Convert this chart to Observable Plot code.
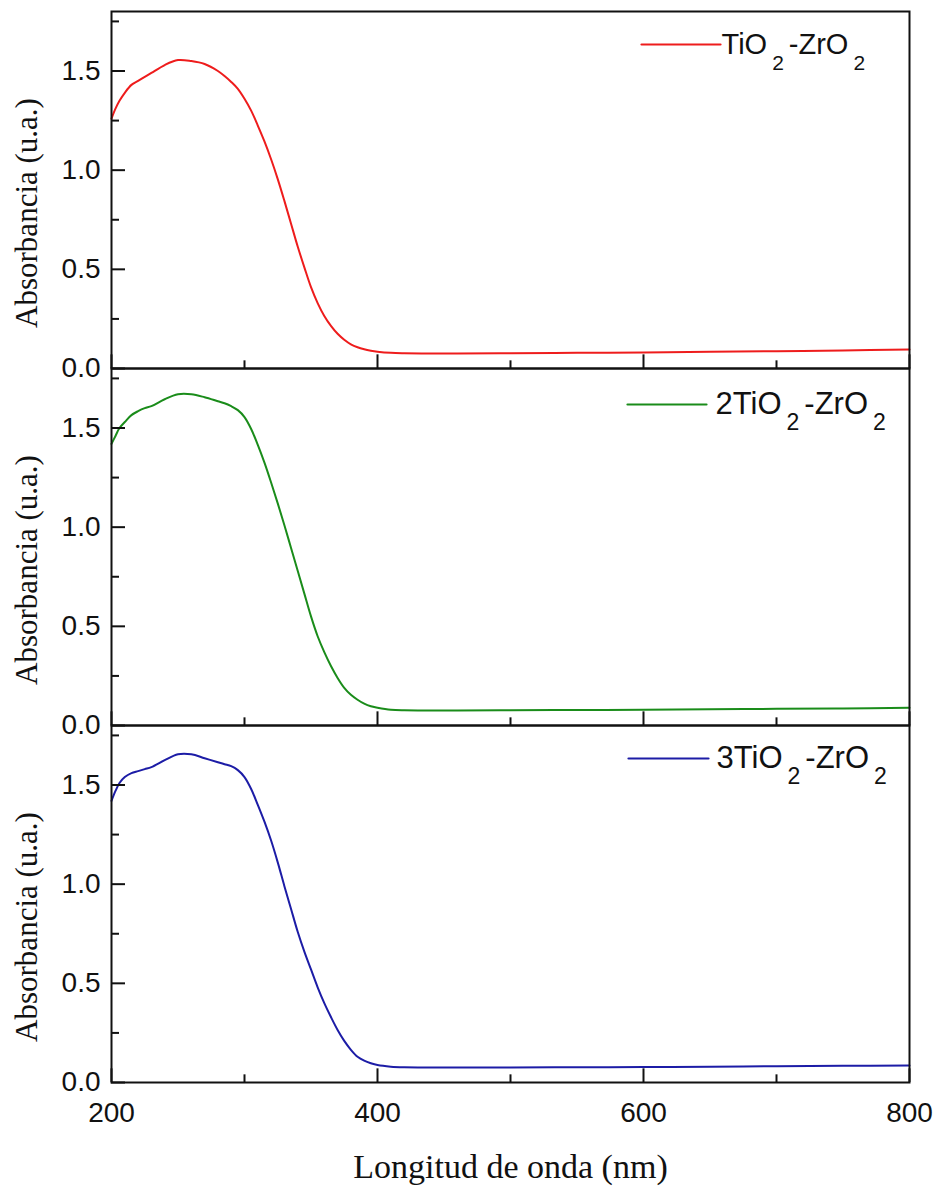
<!DOCTYPE html>
<html>
<head>
<meta charset="utf-8">
<script src="https://cdn.jsdelivr.net/npm/d3@7"></script>
<script src="https://cdn.jsdelivr.net/npm/@observablehq/plot@0.6"></script>
<style>
  body { margin: 0; background: #fff; }
  #chart svg { display: block; }
</style>
</head>
<body>
<div id="chart"></div>
<script>
// ---- Data ----
const wavelengths = [200,203,206,210,215,220,225,230,240,250,260,270,280,285,290,295,300,305,310,315,320,325,330,335,340,345,350,355,360,365,370,375,380,385,390,395,400,410,420,440,460,500,550,600,650,700,750,800];

const absTiO2ZrO2 = [1.26,1.31,1.35,1.39,1.43,1.45,1.47,1.49,1.53,1.555,1.55,1.535,1.50,1.475,1.445,1.41,1.36,1.30,1.225,1.145,1.055,0.955,0.845,0.73,0.615,0.51,0.41,0.33,0.265,0.215,0.175,0.145,0.122,0.107,0.097,0.09,0.085,0.079,0.077,0.076,0.076,0.077,0.079,0.081,0.084,0.087,0.091,0.096];

const abs2TiO2ZrO2 = [1.42,1.46,1.50,1.53,1.565,1.585,1.60,1.61,1.645,1.67,1.67,1.655,1.635,1.625,1.61,1.59,1.555,1.495,1.415,1.325,1.225,1.12,1.01,0.895,0.78,0.665,0.55,0.45,0.37,0.30,0.24,0.19,0.155,0.13,0.11,0.097,0.09,0.08,0.077,0.076,0.076,0.077,0.078,0.080,0.082,0.084,0.086,0.090];

const abs3TiO2ZrO2 = [1.42,1.47,1.51,1.54,1.56,1.57,1.58,1.59,1.625,1.655,1.655,1.635,1.615,1.605,1.595,1.575,1.54,1.48,1.40,1.315,1.22,1.11,0.99,0.875,0.76,0.66,0.57,0.48,0.40,0.33,0.265,0.21,0.165,0.13,0.11,0.097,0.088,0.08,0.077,0.076,0.076,0.076,0.077,0.078,0.080,0.082,0.084,0.086];

const seriesNames = ["TiO2-ZrO2", "2TiO2-ZrO2", "3TiO2-ZrO2"];
const seriesValues = [absTiO2ZrO2, abs2TiO2ZrO2, abs3TiO2ZrO2];

const xMajorTicks = [200, 400, 600, 800];
const xMinorTicks = [300, 500, 700];
const yMajorTicks = [0, 0.5, 1.0, 1.5];
const yMinorTicks = [0.25, 0.75, 1.25, 1.75];

const xLabel = "Longitud de onda (nm)";
const yLabel = "Absorbancia (u.a.)";

// ---- Styles ----
const seriesColors = ["#ee1c1c", "#1a8c1a", "#1c1ca6"];
const W = 937, H = 1191;
const mL = 111, mR = 28, mT = 10, mB = 109;
const plotW = W - mL - mR;
const panelH = (H - mT - mB) / 3;
const sans = "'Liberation Sans', Arial, Helvetica, sans-serif";
const serif = "'Liberation Serif', 'Times New Roman', Times, serif";
const legendStyle = [
  {x1: 641, x2: 720, dy: 33, tx: 721, fontSize: 29},
  {x1: 627, x2: 706, dy: 36, tx: 715, fontSize: 31},
  {x1: 628, x2: 708, dy: 33, tx: 716, fontSize: 31}
];

const rows = [];
seriesNames.forEach((s, i) => wavelengths.forEach((w, j) => rows.push({series: s, wl: w, a: seriesValues[i][j]})));

const lineShape = {draw(context, l) { context.moveTo(0, 0); context.lineTo(0, -l); }};

const legendMarks = seriesNames.flatMap((name, i) => {
  const st = legendStyle[i];
  return [
    Plot.vector([name], {
      fy: d => d, frameAnchor: "top-left",
      dx: st.x2 - mL, dy: st.dy,
      length: st.x2 - st.x1, rotate: -90, anchor: "start",
      shape: lineShape, stroke: seriesColors[i], strokeWidth: 2.2
    }),
    Plot.text([name], {
      fy: d => d, frameAnchor: "top-left",
      dx: st.tx - mL, dy: st.dy,
      text: d => d, textAnchor: "start", lineAnchor: "middle",
      fontSize: st.fontSize, fontFamily: sans, fill: "#111"
    })
  ];
});

const chart = Plot.plot({
  width: W, height: H,
  marginLeft: mL, marginRight: mR, marginTop: mT, marginBottom: mB,
  style: {fontFamily: sans, background: "#fff", color: "#111"},
  x: {domain: [200, 800], axis: null},
  y: {domain: [0, 1.8], axis: null},
  fy: {domain: seriesNames, axis: null, padding: 0},
  color: {domain: seriesNames, range: seriesColors},
  marks: [
    Plot.line(rows, {x: "wl", y: "a", fy: "series", stroke: "series", strokeWidth: 2, curve: "catmull-rom"}),
    // inward ticks
    Plot.tickY(yMajorTicks, {y: d => d, insetRight: plotW - 14, stroke: "#111", strokeWidth: 2}),
    Plot.tickY(yMinorTicks, {y: d => d, insetRight: plotW - 8, stroke: "#111", strokeWidth: 2}),
    Plot.tickX(xMajorTicks, {x: d => d, insetTop: panelH - 14, stroke: "#111", strokeWidth: 2}),
    Plot.tickX(xMinorTicks, {x: d => d, insetTop: panelH - 8, stroke: "#111", strokeWidth: 2}),
    Plot.frame({stroke: "#111", strokeWidth: 2}),
    Plot.axisY({ticks: yMajorTicks, tickFormat: d3.format(".1f"), tickSize: 0, tickPadding: 11, fontSize: 28, label: null, fill: "#111"}),
    Plot.axisX({ticks: xMajorTicks, tickFormat: d => String(d), tickSize: 0, tickPadding: 20, fontSize: 28, label: null, fill: "#111"}),
    Plot.text(seriesNames, {fy: d => d, text: () => yLabel, frameAnchor: "left", rotate: -90, dx: -84, dy: 23,
      textAnchor: "middle", lineAnchor: "middle", fontSize: 31, fontFamily: serif, fill: "#111"}),
    Plot.text([seriesNames[2]], {fy: d => d, text: () => xLabel, frameAnchor: "bottom", dy: 85,
      textAnchor: "middle", lineAnchor: "middle", fontSize: 34, fontFamily: serif, fill: "#111"}),
    ...legendMarks
  ]
});

document.getElementById("chart").appendChild(chart);

// Legend labels: render the "2" after "O" as a subscript
const legendFont = Object.fromEntries(seriesNames.map((n, i) => [n, legendStyle[i].fontSize]));
d3.select(chart).selectAll("text").each(function () {
  const label = this.textContent;
  if (!(label in legendFont)) return;
  const fs = legendFont[label];
  const subFs = Math.round(fs * 0.74);
  const shift = 16;
  const t = d3.select(this);
  t.text(null);
  const chars = [...label];
  let buf = "";
  let nextDx = 0, nextDy = 0;
  const flush = () => {
    if (!buf) return;
    const ts = t.append("tspan").text(buf);
    if (nextDx) ts.attr("dx", nextDx);
    if (nextDy) ts.attr("dy", nextDy);
    nextDx = 0; nextDy = 0; buf = "";
  };
  chars.forEach((c, k) => {
    if (c === "2" && chars[k - 1] === "O") {
      flush();
      t.append("tspan").text(c).attr("font-size", subFs).attr("dx", 5).attr("dy", shift);
      nextDx = 5; nextDy = -shift;
    } else {
      buf += c;
    }
  });
  flush();
});
</script>
</body>
</html>
